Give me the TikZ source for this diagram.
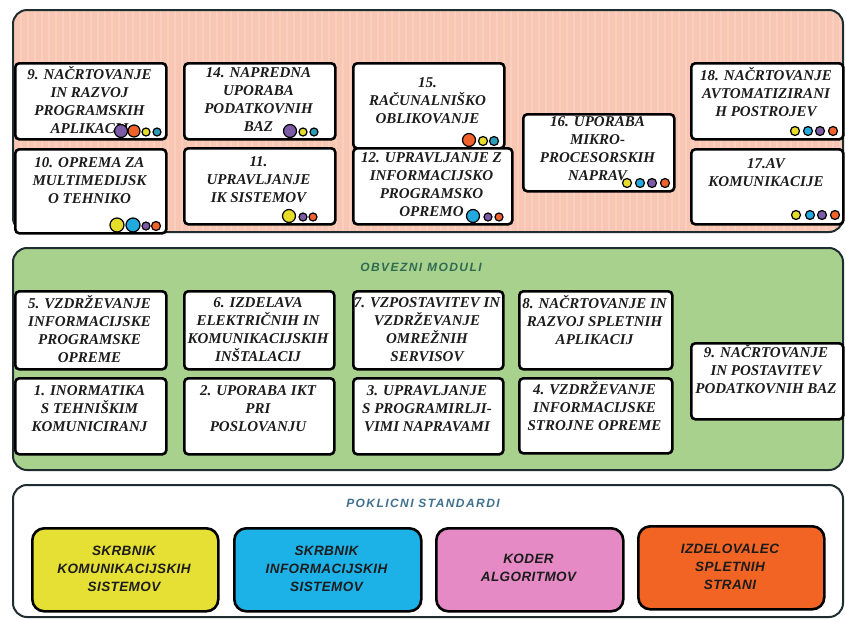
\documentclass[tikz,border=0pt]{standalone}
\usepackage{fontspec}
\setmainfont{Liberation Serif}
\newfontfamily\sansbi{Liberation Sans}[LetterSpace=3]
\newfontfamily\titlefont{Liberation Sans}[LetterSpace=12]
\definecolor{pinkbg}{HTML}{F8C6B3}
\definecolor{greenbg}{HTML}{A9D18E}
\definecolor{frame}{HTML}{1F2D30}
\definecolor{dyellow}{HTML}{E6DC2A}
\definecolor{dblue}{HTML}{22A9DE}
\definecolor{dpurple}{HTML}{7C5BA6}
\definecolor{dorange}{HTML}{F0622A}
\definecolor{dteal}{HTML}{2A9CB8}
\definecolor{byellow}{HTML}{E6E035}
\definecolor{bblue}{HTML}{1CB2E8}
\definecolor{bpink}{HTML}{E58AC4}
\definecolor{borange}{HTML}{F26424}
\definecolor{txtc}{HTML}{1C1C1C}
\definecolor{greentitle}{HTML}{2E6B50}
\definecolor{bluetitle}{HTML}{3F7090}
\tikzset{
  panel/.style={draw=frame, line width=2pt, rounded corners=14pt},
  modbox/.style={draw=black, fill=white, line width=2.6pt, rounded corners=4pt, inner sep=0pt},
  modtext/.style={inner sep=0pt, align=center, text=txtc, font=\fontsize{15}{18}\selectfont\bfseries\itshape},
  stdbox/.style={draw=black, line width=2.6pt, rounded corners=12pt, inner sep=0pt},
  stdtext/.style={inner sep=0pt, align=center, text=txtc, font=\fontsize{13.5}{18}\selectfont\sansbi\bfseries\itshape},
  ttl/.style={inner sep=0pt, font=\fontsize{12}{14}\selectfont\titlefont\bfseries\itshape},
  dotc/.style={draw=black, line width=1.2pt}
}
\newcommand{\modbox}[7]{%
  \node[modbox, anchor=north west, minimum width={#4-#2}, minimum height={#5-#3}] (#1) at (#2,#3) {};
  \node[modtext] (#1t) at ({(#2+#4)/2},#6) {#7};
}
\newcommand{\stdbox}[8]{%
  \node[stdbox, fill=#8, anchor=north west, minimum width={#4-#2}, minimum height={#5-#3}] (#1) at (#2,#3) {};
  \node[stdtext] (#1t) at ({(#2+#4)/2},#6) {#7};
}
\newcommand{\dotat}[4]{\draw[dotc, fill=#4] (#1,#2) circle[radius=#3];}
\begin{document}
\begin{tikzpicture}[x=1pt, y=-1pt]
\useasboundingbox (0,0) rectangle (846,619);
% ---------- top panel (pink) ----------
\begin{scope}
  \clip[rounded corners=14pt] (13,10) rectangle (843,232);
  \fill[pinkbg] (13,10) rectangle (843,232);
  \draw[white, opacity=0.18, line width=1.5pt, step=7] (13,10) grid (843,232);
\end{scope}
\draw[panel] (13,10) rectangle (843,232);
\modbox{m9a}{14}{62}{165}{138}{100}{9. NAČRTOVANJE\\IN RAZVOJ\\PROGRAMSKIH\\APLIKACIJ}
\modbox{m14}{183}{62}{334}{138}{100}{14. NAPREDNA\\UPORABA\\PODATKOVNIH\\BAZ}
\modbox{m15}{352}{62}{503}{147}{100.5}{15.\\RAČUNALNIŠKO\\OBLIKOVANJE}
\modbox{m10}{14}{148}{165}{232}{181}{10. OPREMA ZA\\MULTIMEDIJSK\\O TEHNIKO}
\modbox{m11}{183}{147}{334}{223}{180}{11.\\UPRAVLJANJE\\IK SISTEMOV}
\modbox{m12}{352}{147}{511}{223}{184.5}{12. UPRAVLJANJE Z\\INFORMACIJSKO\\PROGRAMSKO\\OPREMO}
\modbox{m16}{522}{113}{673}{190}{149}{16. UPORABA\\MIKRO-\\PROCESORSKIH\\NAPRAV}
\modbox{m18}{690}{62}{842}{138}{92.5}{18. NAČRTOVANJE\\AVTOMATIZIRANI\\H POSTROJEV}
\modbox{m17}{690}{148}{842}{223}{172.5}{17.AV\\KOMUNIKACIJE}
% dots
\dotat{121}{131}{6.5}{dpurple}\dotat{134}{131}{6}{dorange}\dotat{146}{132}{4}{dyellow}\dotat{157}{132}{4}{dteal}
\dotat{290}{131}{6.5}{dpurple}\dotat{303}{132}{4}{dyellow}\dotat{314}{132}{4}{dteal}
\dotat{469}{140}{6.5}{dorange}\dotat{483}{141}{4.5}{dyellow}\dotat{494}{141}{4.5}{dteal}
\dotat{627}{183}{4.5}{dyellow}\dotat{640}{183}{4.5}{dblue}\dotat{652}{183}{4.5}{dpurple}\dotat{665}{183}{4.5}{dorange}
\dotat{795}{131}{4.5}{dyellow}\dotat{808}{131}{4.5}{dblue}\dotat{820}{131}{4.5}{dpurple}\dotat{833}{131}{4.5}{dorange}
\dotat{796}{215}{4.5}{dyellow}\dotat{810}{215}{4.5}{dblue}\dotat{822}{215}{4.5}{dpurple}\dotat{835}{215}{4.5}{dorange}
\dotat{117}{225}{7}{dyellow}\dotat{133}{225}{7}{dblue}\dotat{146}{226}{4}{dpurple}\dotat{156}{226}{4.5}{dorange}
\dotat{289}{216}{6.5}{dyellow}\dotat{303}{217}{4}{dpurple}\dotat{313}{217}{4}{dorange}
\dotat{473}{216}{6.5}{dblue}\dotat{488}{217}{4}{dpurple}\dotat{499}{217}{4}{dorange}
% ---------- middle panel (green) ----------
\draw[panel, fill=greenbg] (13,248) rectangle (843,470);
\node[ttl, text=greentitle] (obv) at (421,267) {OBVEZNI MODULI};
\modbox{m5}{14}{290}{165}{368}{329.5}{5. VZDRŽEVANJE\\INFORMACIJSKE\\PROGRAMSKE\\OPREME}
\modbox{m6}{183}{290}{333}{368}{329.5}{6. IZDELAVA\\ELEKTRIČNIH IN\\KOMUNIKACIJSKIH\\INŠTALACIJ}
\modbox{m7}{352}{290}{502}{368}{329.5}{7. VZPOSTAVITEV IN\\VZDRŽEVANJE\\OMREŽNIH\\SERVISOV}
\modbox{m8}{518}{290}{671}{368}{320}{8. NAČRTOVANJE IN\\RAZVOJ SPLETNIH\\APLIKACIJ}
\modbox{m1}{14}{377}{165}{453}{408.5}{1. INORMATIKA\\S TEHNIŠKIM\\KOMUNICIRANJ}
\modbox{m2}{183}{377}{333}{453}{408.5}{2. UPORABA IKT\\PRI\\POSLOVANJU}
\modbox{m3}{352}{377}{502}{453}{408.5}{3. UPRAVLJANJE\\S PROGRAMIRLJI-\\VIMI NAPRAVAMI}
\modbox{m4}{518}{377}{671}{452}{406.5}{4. VZDRŽEVANJE\\INFORMACIJSKE\\STROJNE OPREME}
\modbox{m9b}{690}{342}{842}{418}{369.5}{9. NAČRTOVANJE\\IN POSTAVITEV\\PODATKOVNIH BAZ}
% ---------- bottom panel ----------
\draw[panel, fill=white] (13,485) rectangle (843,617);
\node[ttl, text=bluetitle] (pok) at (423,503) {POKLICNI STANDARDI};
\stdbox{s1}{31}{527}{217}{610}{568.5}{SKRBNIK\\KOMUNIKACIJSKIH\\SISTEMOV}{byellow}
\stdbox{s2}{233}{527}{420}{610}{568.5}{SKRBNIK\\INFORMACIJSKIH\\SISTEMOV}{bblue}
\stdbox{s3}{435}{527}{622}{610}{568}{KODER\\ALGORITMOV}{bpink}
\stdbox{s4}{637}{525}{823}{608}{566.5}{IZDELOVALEC\\SPLETNIH\\STRANI}{borange}
\end{tikzpicture}
\end{document}
